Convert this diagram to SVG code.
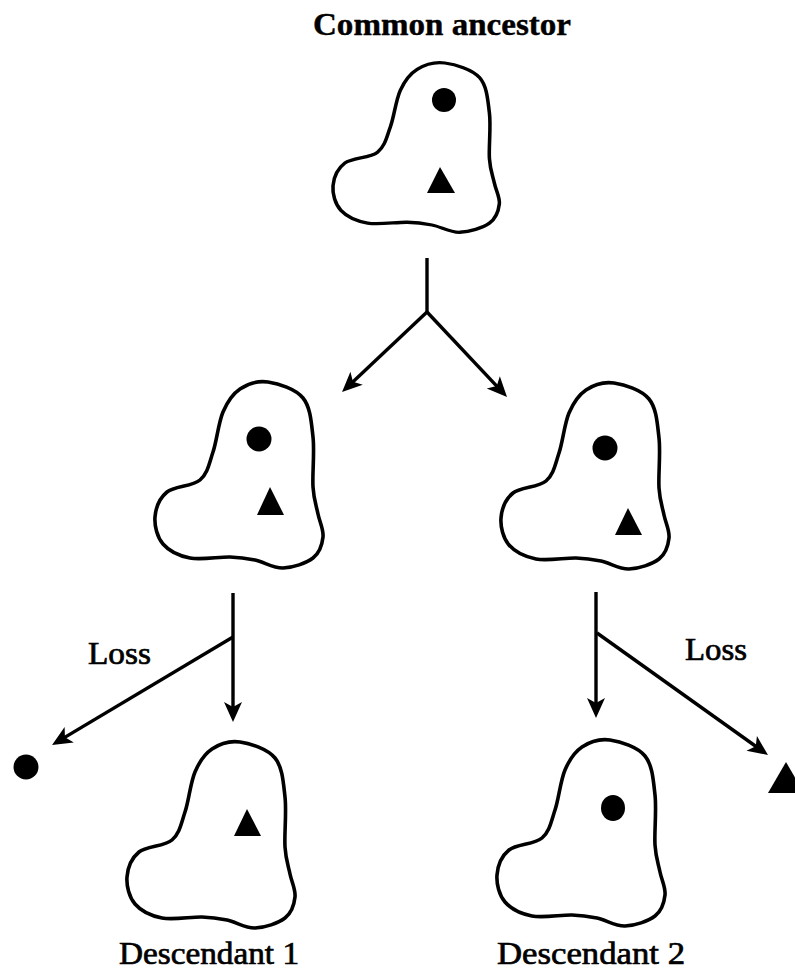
<svg xmlns="http://www.w3.org/2000/svg" width="795" height="972" viewBox="0 0 795 972">
  <style>
    .cell { fill: #fff; stroke: #000; stroke-width: 3.6; vector-effect: non-scaling-stroke; }
    .mark { fill: #000; }
    .wire { fill: none; stroke: #000; stroke-width: 3.4; }
    .lbl { font-family: "Liberation Serif", "Times New Roman", serif; fill: #000; stroke: #000; stroke-width: 0.7; }
    .title { stroke-width: 0.4; font-weight: bold; }
  </style>
  <defs>
    <!-- cell outline: upper lobe on the right, smaller lobe at lower left -->
    <path id="outline" d="M113,0 C123.5,1.5 140.5,6.8 148,16 C155.5,25.2 156.3,40.2 158,55 C159.7,69.8 157.2,92.2 158,105 C158.8,117.8 161.3,123.7 163,132 C164.7,140.3 168.8,147.7 168,155 C167.2,162.3 164.7,170.8 158,176 C151.3,181.2 137.7,185.7 128,186 C118.3,186.3 108.8,179.8 100,178 C91.2,176.2 85.8,175.3 75,175 C64.2,174.7 46.2,178.2 35,176 C23.8,173.8 13.8,168.8 8,162 C2.2,155.2 -0.7,143.7 0,135 C0.7,126.3 4.5,116.2 12,110 C19.5,103.8 37.3,104.7 45,98 C52.7,91.3 54.2,81.3 58,70 C61.8,58.7 63.5,40.5 68,30 C72.5,19.5 77.5,12 85,7 C92.5,2 102.5,-1.5 113,0 Z"/>
    <marker id="head" markerUnits="userSpaceOnUse" viewBox="-22 -11 24 22" markerWidth="24" markerHeight="22" refX="-6" refY="0" orient="auto">
      <path d="M0,0 L-20,-9 L-15,0 L-20,9 Z" fill="#000"/>
    </marker>
  </defs>

  <!-- connectors -->
  <g id="connectors">
    <line class="wire" x1="427" y1="258" x2="427" y2="313"/>
    <line class="wire" x1="427" y1="312" x2="346.4" y2="387.9" marker-end="url(#head)"/>
    <line class="wire" x1="427" y1="312" x2="502.9" y2="392.6" marker-end="url(#head)"/>
    <line class="wire" x1="233" y1="593" x2="233" y2="716" marker-end="url(#head)"/>
    <line class="wire" x1="233" y1="637" x2="57.2" y2="741.9" marker-end="url(#head)"/>
    <line class="wire" x1="596" y1="592" x2="596" y2="712" marker-end="url(#head)"/>
    <line class="wire" x1="597" y1="633" x2="763.1" y2="751.5" marker-end="url(#head)"/>
  </g>

  <!-- ancestral cell -->
  <g id="ancestor">
    <text class="lbl title" x="442" y="35" font-size="31" text-anchor="middle" textLength="258" lengthAdjust="spacingAndGlyphs">Common ancestor</text>
    <use href="#outline" class="cell" transform="translate(333,63) scale(0.99,0.91)"/>
    <circle class="mark" cx="444" cy="100" r="12"/>
    <polygon class="mark" points="440,167 427,193 455,193"/>
  </g>

  <!-- intermediate lineages -->
  <g id="lineage-left">
    <use href="#outline" class="cell" transform="translate(155,382)"/>
    <circle class="mark" cx="259" cy="439" r="12.5"/>
    <polygon class="mark" points="270,487 257,515 284,515"/>
  </g>
  <g id="lineage-right">
    <use href="#outline" class="cell" transform="translate(501,383)"/>
    <circle class="mark" cx="605" cy="448" r="12.5"/>
    <polygon class="mark" points="628,508 615,535 642,535"/>
  </g>

  <!-- lost elements -->
  <g id="lost-dot">
    <text class="lbl" x="88" y="664" font-size="31" textLength="63" lengthAdjust="spacingAndGlyphs">Loss</text>
    <circle class="mark" cx="26" cy="767" r="12.5"/>
  </g>
  <g id="lost-triangle">
    <text class="lbl" x="685" y="660" font-size="31" textLength="62" lengthAdjust="spacingAndGlyphs">Loss</text>
    <polygon class="mark" points="786,762 768,793 804,793"/>
  </g>

  <!-- descendants -->
  <g id="descendant-1">
    <use href="#outline" class="cell" transform="translate(127,742)"/>
    <polygon class="mark" points="247,809 234,836 261,836"/>
    <text class="lbl" x="119" y="964" font-size="32" textLength="180" lengthAdjust="spacingAndGlyphs">Descendant 1</text>
  </g>
  <g id="descendant-2">
    <use href="#outline" class="cell" transform="translate(497,740)"/>
    <ellipse class="mark" cx="613" cy="808" rx="12" ry="13"/>
    <text class="lbl" x="497" y="964" font-size="32" textLength="188" lengthAdjust="spacingAndGlyphs">Descendant 2</text>
  </g>
</svg>
